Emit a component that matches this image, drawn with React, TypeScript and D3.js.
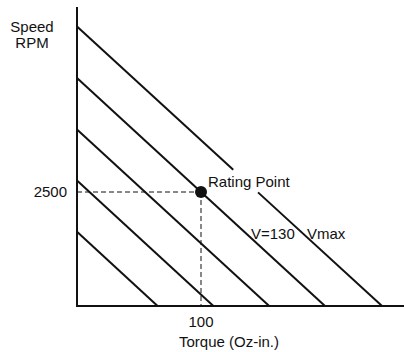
import React, { useEffect, useRef } from 'react';
import * as d3 from 'd3';

// speed-torque lines, one per supply voltage (top = Vmax)
const lineNames = ['Vmax', 'V=130', 'V3', 'V2', 'V1'];
const noLoadSpeeds = [6130, 5000, 3870, 2750, 1630];
const stallTorques = [246, 200, 155, 110, 65];

const ratingTorque = 100;
const ratingSpeed = 2500;

const xTicks = [100];
const yTicks = [2500];

// gap in the Vmax line where the "Rating Point" label sits (torque units)
const labelGap: [number, number] = [126, 146];

const width = 404;
const height = 352;

const App: React.FC = () => {
  const svgRef = useRef<SVGSVGElement>(null);

  useEffect(() => {
    if (!svgRef.current) return;
    const svg = d3.select(svgRef.current);
    svg.selectAll('*').remove();

    const font = '"Liberation Sans", Arial, Helvetica, sans-serif';

    const x = d3.scaleLinear().domain([0, 100]).range([77, 201]);
    const y = d3.scaleLinear().domain([0, 2500]).range([306, 192]);

    const xMax = x.invert(width);
    const yMax = y.invert(7);

    const line = d3
      .line<[number, number]>()
      .x((d) => x(d[0]))
      .y((d) => y(d[1]));

    const g = svg.append('g');

    // dashed guides to the rating point
    g.append('path')
      .attr('d', line([[0, ratingSpeed], [ratingTorque, ratingSpeed]]) || '')
      .attr('stroke', '#111')
      .attr('stroke-width', 1)
      .attr('stroke-dasharray', '5,3')
      .attr('fill', 'none');
    g.append('path')
      .attr('d', line([[ratingTorque, ratingSpeed], [ratingTorque, 0]]) || '')
      .attr('stroke', '#111')
      .attr('stroke-width', 1)
      .attr('stroke-dasharray', '5,3')
      .attr('fill', 'none');

    // speed-torque lines
    noLoadSpeeds.forEach((s0, i) => {
      const t0 = stallTorques[i];
      const speedAt = (t: number) => s0 * (1 - t / t0);
      const segs: [number, number][][] =
        i === 0
          ? [
              [[0, s0], [labelGap[0], speedAt(labelGap[0])]],
              [[labelGap[1], speedAt(labelGap[1])], [t0, 0]],
            ]
          : [[[0, s0], [t0, 0]]];
      segs.forEach((seg) => {
        g.append('path')
          .attr('d', line(seg) || '')
          .attr('stroke', '#111')
          .attr('stroke-width', 2)
          .attr('fill', 'none')
          .attr('data-name', lineNames[i]);
      });
    });

    // axes
    g.append('path')
      .attr('d', line([[0, yMax], [0, 0], [xMax, 0]]) || '')
      .attr('stroke', '#111')
      .attr('stroke-width', 2)
      .attr('fill', 'none');

    // rating point
    g.append('circle')
      .attr('cx', x(ratingTorque))
      .attr('cy', y(ratingSpeed))
      .attr('r', 6)
      .attr('fill', '#111');

    const text = (tx: number, ty: number, s: string, anchor = 'start') =>
      g.append('text')
        .attr('x', tx)
        .attr('y', ty)
        .attr('text-anchor', anchor)
        .attr('font-family', font)
        .attr('font-size', '15px')
        .attr('fill', '#111')
        .text(s);

    yTicks.forEach((v) => text(67, y(v) + 5, String(v), 'end'));
    xTicks.forEach((v) => text(x(v), 327, String(v), 'middle'));

    text(32, 32, 'Speed', 'middle');
    text(32, 48, 'RPM', 'middle');
    text(229, 347, 'Torque (Oz-in.)', 'middle');

    text(208, 187, 'Rating Point');
    text(251, 239, lineNames[1]);
    text(307, 239, lineNames[0]);
  }, []);

  return (
    <svg
      ref={svgRef}
      width={width}
      height={height}
      style={{ position: 'fixed', left: 0, top: 0, background: '#fff' }}
    />
  );
};

export default App;
